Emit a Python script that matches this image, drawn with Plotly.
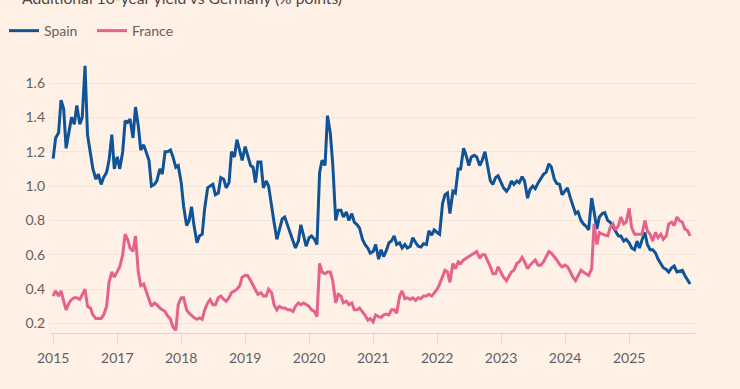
import pandas as pd
import plotly.graph_objects as go

# Semi-monthly observations, Jan 2016 - Dec 2025 (24 per year)
spain_2016 = [1.16, 1.28, 1.31, 1.50, 1.45, 1.22, 1.32, 1.40, 1.36, 1.47, 1.36, 1.40, 1.70, 1.30, 1.19, 1.10, 1.04, 1.07, 1.01, 1.05, 1.08, 1.15, 1.30, 1.10]
spain_2017 = [1.17, 1.10, 1.20, 1.38, 1.37, 1.39, 1.28, 1.46, 1.35, 1.21, 1.24, 1.20, 1.15, 1.00, 1.01, 1.03, 1.10, 1.07, 1.20, 1.20, 1.21, 1.17, 1.11, 1.12]
spain_2018 = [1.02, 0.88, 0.77, 0.80, 0.88, 0.77, 0.67, 0.71, 0.72, 0.87, 0.99, 1.00, 1.01, 0.95, 0.96, 1.05, 1.04, 0.99, 1.02, 1.20, 1.17, 1.27, 1.21, 1.15]
spain_2019 = [1.23, 1.18, 1.12, 1.11, 1.02, 1.14, 1.14, 0.99, 1.03, 1.00, 0.87, 0.79, 0.69, 0.74, 0.81, 0.82, 0.77, 0.72, 0.68, 0.64, 0.68, 0.775, 0.71, 0.65]
spain_2020 = [0.70, 0.71, 0.69, 0.66, 1.08, 1.15, 1.12, 1.41, 1.31, 1.13, 0.80, 0.86, 0.86, 0.82, 0.85, 0.80, 0.84, 0.79, 0.775, 0.755, 0.69, 0.66, 0.64, 0.61]
spain_2021 = [0.62, 0.66, 0.575, 0.63, 0.59, 0.62, 0.67, 0.68, 0.71, 0.66, 0.67, 0.64, 0.66, 0.64, 0.65, 0.70, 0.67, 0.65, 0.645, 0.665, 0.66, 0.74, 0.715, 0.745]
spain_2022 = [0.73, 0.72, 0.90, 0.95, 0.96, 0.84, 0.97, 0.96, 1.10, 1.10, 1.22, 1.18, 1.12, 1.17, 1.18, 1.17, 1.12, 1.15, 1.20, 1.13, 1.03, 1.01, 1.05, 1.06]
spain_2023 = [1.02, 0.99, 0.97, 0.99, 1.03, 1.01, 1.03, 1.02, 1.055, 1.03, 0.93, 0.98, 1.00, 0.985, 1.02, 1.04, 1.07, 1.08, 1.13, 1.11, 1.04, 1.015, 1.01, 0.95]
spain_2024 = [0.97, 0.99, 0.93, 0.88, 0.84, 0.85, 0.80, 0.78, 0.765, 0.745, 0.93, 0.85, 0.75, 0.82, 0.84, 0.845, 0.80, 0.79, 0.76, 0.74, 0.71, 0.71, 0.68, 0.69]
spain_2025 = [0.67, 0.64, 0.63, 0.68, 0.64, 0.685, 0.73, 0.66, 0.63, 0.63, 0.61, 0.575, 0.55, 0.525, 0.515, 0.50, 0.525, 0.535, 0.50, 0.505, 0.51, 0.48, 0.455, 0.43]

france_2016 = [0.36, 0.39, 0.36, 0.39, 0.33, 0.28, 0.32, 0.34, 0.35, 0.35, 0.34, 0.37, 0.40, 0.30, 0.29, 0.25, 0.23, 0.23, 0.23, 0.25, 0.30, 0.44, 0.50, 0.47]
france_2017 = [0.50, 0.53, 0.60, 0.72, 0.69, 0.64, 0.62, 0.71, 0.50, 0.42, 0.43, 0.39, 0.34, 0.30, 0.32, 0.31, 0.29, 0.28, 0.27, 0.245, 0.225, 0.18, 0.16, 0.31]
france_2018 = [0.35, 0.35, 0.28, 0.26, 0.245, 0.235, 0.225, 0.233, 0.225, 0.28, 0.32, 0.34, 0.31, 0.31, 0.35, 0.36, 0.34, 0.33, 0.35, 0.38, 0.39, 0.40, 0.42, 0.47]
france_2019 = [0.48, 0.48, 0.45, 0.42, 0.39, 0.37, 0.38, 0.36, 0.36, 0.40, 0.38, 0.31, 0.28, 0.30, 0.29, 0.29, 0.28, 0.28, 0.27, 0.30, 0.32, 0.31, 0.32, 0.31]
france_2020 = [0.30, 0.28, 0.27, 0.24, 0.55, 0.50, 0.49, 0.50, 0.50, 0.45, 0.32, 0.37, 0.36, 0.32, 0.33, 0.31, 0.32, 0.28, 0.28, 0.29, 0.27, 0.25, 0.22, 0.23]
france_2021 = [0.21, 0.25, 0.24, 0.235, 0.25, 0.255, 0.25, 0.28, 0.28, 0.26, 0.36, 0.39, 0.345, 0.35, 0.34, 0.35, 0.335, 0.35, 0.345, 0.36, 0.36, 0.37, 0.36, 0.38]
france_2022 = [0.40, 0.43, 0.48, 0.51, 0.50, 0.44, 0.55, 0.52, 0.56, 0.55, 0.57, 0.58, 0.59, 0.60, 0.615, 0.62, 0.58, 0.60, 0.60, 0.57, 0.53, 0.49, 0.49, 0.53]
france_2023 = [0.50, 0.47, 0.45, 0.48, 0.50, 0.51, 0.55, 0.56, 0.585, 0.56, 0.52, 0.54, 0.555, 0.57, 0.54, 0.54, 0.56, 0.59, 0.62, 0.61, 0.59, 0.57, 0.545, 0.53]
france_2024 = [0.54, 0.53, 0.50, 0.47, 0.45, 0.48, 0.51, 0.50, 0.49, 0.48, 0.52, 0.78, 0.66, 0.73, 0.72, 0.715, 0.71, 0.76, 0.78, 0.745, 0.77, 0.82, 0.78, 0.79]
france_2025 = [0.87, 0.76, 0.72, 0.72, 0.72, 0.72, 0.80, 0.74, 0.72, 0.68, 0.73, 0.70, 0.72, 0.69, 0.71, 0.78, 0.79, 0.77, 0.82, 0.80, 0.79, 0.75, 0.74, 0.71]

tick_dates = ["2016-01-01", "2017-01-01", "2018-01-01", "2019-01-01", "2020-01-01",
              "2021-01-01", "2022-01-01", "2023-01-01", "2024-01-01", "2025-01-01"]
tick_labels = ["2015", "2017", "2018", "2019", "2020", "2021", "2022", "2023", "2024", "2025"]
y_ticks = [0.2, 0.4, 0.6, 0.8, 1.0, 1.2, 1.4, 1.6]

spain = (spain_2016 + spain_2017 + spain_2018 + spain_2019 + spain_2020 +
         spain_2021 + spain_2022 + spain_2023 + spain_2024 + spain_2025)
france = (france_2016 + france_2017 + france_2018 + france_2019 + france_2020 +
          france_2021 + france_2022 + france_2023 + france_2024 + france_2025)
dates = pd.date_range("2016-01-01", periods=len(spain), freq="SMS")

BG = "#FFF1E5"
TXT = "#66605C"
AXIS = "#E0D4C9"
FONT = "Lato"

fig = go.Figure()
fig.add_trace(go.Scatter(x=dates, y=spain, mode="lines", name="Spain",
                         line=dict(color="#0F5499", width=3)))
fig.add_trace(go.Scatter(x=dates, y=france, mode="lines", name="France",
                         line=dict(color="#E6628C", width=3)))

fig.update_layout(
    width=740, height=389,
    margin=dict(l=50, r=45, t=60, b=56, autoexpand=False),
    paper_bgcolor=BG, plot_bgcolor=BG,
    font=dict(family=FONT, size=14, color=TXT),
    showlegend=True,
    legend=dict(orientation="h", x=-0.0713, xanchor="left", y=1.106, yanchor="middle",
                bgcolor="rgba(0,0,0,0)", font=dict(size=14, color=TXT),
                entrywidth=43, entrywidthmode="pixels", tracegroupgap=0),
    xaxis=dict(type="date", range=["2015-12-14", "2026-01-12"],
               tickmode="array", tickvals=tick_dates, ticktext=tick_labels,
               showgrid=False, zeroline=False,
               showline=True, linecolor=AXIS, linewidth=1,
               ticks="outside", ticklen=9, tickcolor=AXIS, tickwidth=1,
               ticklabelstandoff=3,
               tickfont=dict(size=14, color=TXT)),
    yaxis=dict(range=[0.145, 1.734], tickmode="array", tickvals=y_ticks,
               tickformat=".1f", showgrid=True, gridcolor="#F2E5DA", gridwidth=1,
               zeroline=False, showline=False, ticks="",
               tickfont=dict(size=14, color=TXT), ticklabelstandoff=4),
    annotations=[
        dict(text="Additional 10-year yield vs Germany (% points)", xref="paper", yref="paper",
             x=-0.046, xanchor="left", y=1.226, yanchor="middle", showarrow=False,
             font=dict(family=FONT, size=15.7, color="#4D4845")),
        dict(text="Source: LSEG", xref="paper", yref="paper",
             x=-0.046, xanchor="left", y=-0.19, yanchor="top", showarrow=False,
             font=dict(family=FONT, size=13, color=TXT)),
    ],
)

fig.write_html("out.html", config={"displayModeBar": False},
               post_script="document.body.style.margin='0';")
